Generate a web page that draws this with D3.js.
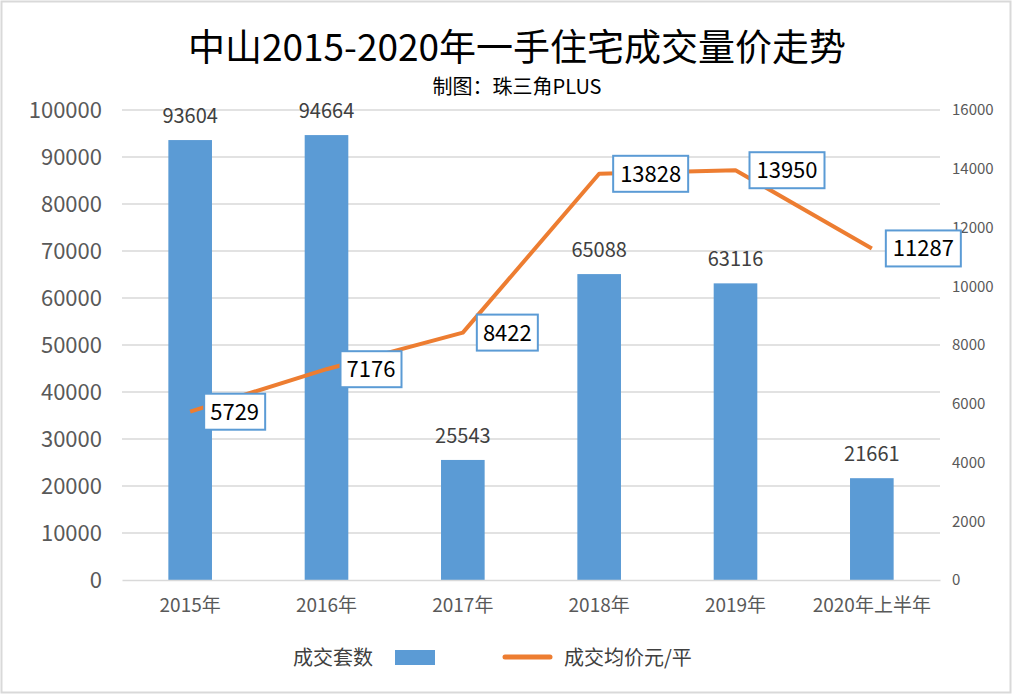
<!DOCTYPE html>
<html><head><meta charset="utf-8">
<script src="https://cdn.jsdelivr.net/npm/d3@7"></script>
<style>body{margin:0;background:#fff}svg{display:block}text{font-family:"Noto Sans CJK SC","Noto Sans",sans-serif}</style>
</head><body><svg id="c" width="1012" height="694"></svg>
<script>
const categories = ["2015年","2016年","2017年","2018年","2019年","2020年上半年"];
const volume = [93604, 94664, 25543, 65088, 63116, 21661];
const price = [5729, 7176, 8422, 13828, 13950, 11287];
const leftTicks = [0,10000,20000,30000,40000,50000,60000,70000,80000,90000,100000];
const rightTicks = [0,2000,4000,6000,8000,10000,12000,14000,16000];

const svg = d3.select("#c");
svg.append("rect").attr("x",1.5).attr("y",1.5).attr("width",1009).attr("height",691)
  .attr("fill","#fff").attr("stroke","#d9d9d9").attr("stroke-width",2);

const L=122, R=940, T=110, B=580;
const x = d3.scaleBand().domain(categories).range([L,R]).paddingInner(0.68).paddingOuter(0.34);
const yL = d3.scaleLinear().domain([0,100000]).range([B,T]);
const yR = d3.scaleLinear().domain([0,16000]).range([B,T]);
const cx = d => x(d)+x.bandwidth()/2;

// gridlines
svg.append("g").selectAll("line").data(leftTicks.slice(1)).join("line")
  .attr("x1",L).attr("x2",R).attr("y1",d=>yL(d)).attr("y2",d=>yL(d))
  .attr("stroke","#d9d9d9").attr("stroke-width",1.3);

// left axis
const gl = svg.append("g").attr("transform",`translate(${L},0)`)
  .call(d3.axisLeft(yL).tickValues(leftTicks).tickSize(0).tickPadding(20).tickFormat(d3.format("d")));
gl.select(".domain").remove();
gl.selectAll("text").attr("font-size",22).attr("fill","#595959").attr("font-family","'Open Sans','Noto Sans',sans-serif");

// right axis
const gr = svg.append("g").attr("transform",`translate(${R},0)`)
  .call(d3.axisRight(yR).tickValues(rightTicks).tickSize(0).tickPadding(12).tickFormat(d3.format("d")));
gr.select(".domain").remove();
gr.selectAll("text").attr("font-size",15).attr("fill","#595959").attr("font-family","'Open Sans','Noto Sans',sans-serif");

// bars
svg.append("g").selectAll("rect").data(volume).join("rect")
  .attr("x",(d,i)=>x(categories[i])).attr("width",x.bandwidth())
  .attr("y",d=>yL(d)).attr("height",d=>B-yL(d)).attr("fill","#5B9BD5");

// bar labels
svg.append("g").selectAll("text").data(volume).join("text")
  .attr("x",(d,i)=>cx(categories[i])).attr("y",d=>yL(d)-17)
  .attr("text-anchor","middle").attr("font-size",20).attr("fill","#404040")
  .attr("font-family","'Open Sans','Noto Sans',sans-serif").text(d=>d);

// x axis
const gx = svg.append("g").attr("transform",`translate(0,${B})`)
  .call(d3.axisBottom(x).tickSize(0).tickPadding(19));
gx.select(".domain").attr("stroke","#d9d9d9").attr("stroke-width",1.5);
gx.selectAll("text").attr("font-size",19).attr("fill","#595959");

// line
const line = d3.line().x((d,i)=>cx(categories[i])).y(d=>yR(d));
svg.append("path").datum(price).attr("d",line).attr("fill","none")
  .attr("stroke","#ED7D31").attr("stroke-width",4).attr("stroke-linejoin","round");

// price label boxes
const bw = d => String(d).length*14+5;
const pl = svg.append("g").selectAll("g").data(price).join("g")
  .attr("transform",(d,i)=>`translate(${cx(categories[i])+14},${yR(d)})`);
pl.append("rect").attr("x",0).attr("y",-18).attr("height",36)
  .attr("width",bw)
  .attr("fill","#fff").attr("stroke","#5B9BD5").attr("stroke-width",2);
pl.append("text").attr("x",d=>bw(d)/2).attr("y",8)
  .attr("text-anchor","middle").attr("font-size",22).attr("fill","#000")
  .attr("font-family","'Open Sans','Noto Sans',sans-serif").text(d=>d);

// title
svg.append("text").attr("x",517).attr("y",61).attr("text-anchor","middle")
  .attr("font-size",37).attr("fill","#000").text("中山2015-2020年一手住宅成交量价走势");
svg.append("text").attr("x",517).attr("y",94).attr("text-anchor","middle")
  .attr("font-size",20).attr("fill","#000").text("制图：珠三角PLUS");

// legend
svg.append("text").attr("x",293).attr("y",665).attr("font-size",20).attr("fill","#404040").text("成交套数");
svg.append("rect").attr("x",395).attr("y",650).attr("width",40).attr("height",15).attr("fill","#5B9BD5");
svg.append("line").attr("x1",505).attr("x2",550).attr("y1",657).attr("y2",657)
  .attr("stroke","#ED7D31").attr("stroke-width",5).attr("stroke-linecap","round");
svg.append("text").attr("x",564).attr("y",665).attr("font-size",20).attr("fill","#404040").text("成交均价元/平");
</script></body></html>
